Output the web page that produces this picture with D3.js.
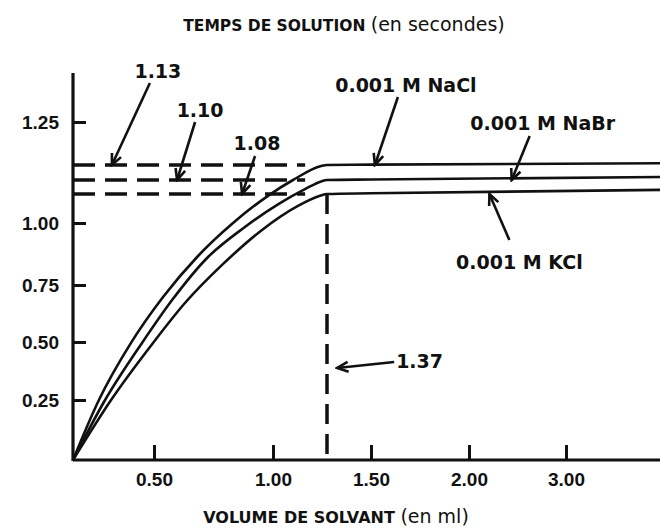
<!DOCTYPE html>
<html>
<head>
<meta charset="utf-8">
<script src="https://cdn.jsdelivr.net/npm/d3@7"></script>
<style>
  html, body { margin: 0; padding: 0; background: #fff; }
  svg { display: block; font-family: "DejaVu Sans", sans-serif; }
</style>
</head>
<body>
<svg id="chart" width="660" height="529"></svg>
<script>
// x axis ticks (ml) and y axis ticks (s)
const xTicks = [0.5, 1.0, 1.5, 2.0, 3.0];
const yTicks = [0.25, 0.5, 0.75, 1.0, 1.25];

// curves: volume (ml) / temps (s)
const naclX = [0, 0.16, 0.358, 0.538, 0.685, 0.832, 0.979, 1.137, 1.33, 1.37, 1.5, 4.0];
const naclY = [0, 0.25, 0.496, 0.697, 0.867, 1.0, 1.075, 1.1, 1.128, 1.13, 1.131, 1.135];
const nabrX = [0, 0.198, 0.426, 0.576, 0.723, 0.882, 1.048, 1.219, 1.33, 1.37, 1.5, 4.0];
const nabrY = [0, 0.25, 0.496, 0.684, 0.859, 0.984, 1.055, 1.087, 1.098, 1.1, 1.101, 1.106];
const kclX = [0, 0.235, 0.494, 0.63, 0.786, 0.954, 1.171, 1.322, 1.37, 1.5, 4.0];
const kclY = [0, 0.25, 0.496, 0.671, 0.831, 0.972, 1.047, 1.075, 1.08, 1.081, 1.086];

// plateau values and end of solution volume
const plateauValues = [1.13, 1.1, 1.08];
const plateauLabels = ["1.13", "1.10", "1.08"];
const endVolume = 1.37;
const dashEnd = 1.22;

const seriesNames = ["0.001 M NaCl", "0.001 M NaBr", "0.001 M KCl"];

const svg = d3.select("#chart");

// the printed axes are not linear, so the scales are calibrated piecewise
const x = d3
  .scaleLinear()
  .domain([0, 0.5, 1.0, 1.37, 1.5, 2.0, 3.0, 4.0])
  .range([73, 154, 273, 327, 371, 469, 566, 663]);

const y = d3
  .scaleLinear()
  .domain([0, 0.25, 0.5, 0.75, 1.0, 1.08, 1.1, 1.13, 1.25, 1.39])
  .range([460, 400, 342, 285, 223, 194, 180, 165, 122, 73]);

const ink = "#111";

// arrow head
svg
  .append("defs")
  .append("marker")
  .attr("id", "head")
  .attr("viewBox", "-12 -7 14 14")
  .attr("refX", 0)
  .attr("refY", 0)
  .attr("markerWidth", 14)
  .attr("markerHeight", 14)
  .attr("markerUnits", "userSpaceOnUse")
  .attr("orient", "auto")
  .append("path")
  .attr("d", "M-11,-5 L0,0 L-11,5")
  .attr("fill", "none")
  .attr("stroke", ink)
  .attr("stroke-width", 2.6);

// dashed guide lines
svg
  .append("g")
  .selectAll("line")
  .data(plateauValues)
  .join("line")
  .attr("x1", x(0))
  .attr("x2", x(dashEnd))
  .attr("y1", (d) => y(d))
  .attr("y2", (d) => y(d))
  .attr("stroke", ink)
  .attr("stroke-width", 3.5)
  .attr("stroke-dasharray", "22,10");

svg
  .append("line")
  .attr("x1", x(endVolume))
  .attr("x2", x(endVolume))
  .attr("y1", y(1.08))
  .attr("y2", y(0))
  .attr("stroke", ink)
  .attr("stroke-width", 3.5)
  .attr("stroke-dasharray", "20,10");

// curves
const line = d3
  .line()
  .x((d) => x(d[0]))
  .y((d) => y(d[1]))
  .curve(d3.curveMonotoneX);

const curves = [
  d3.zip(naclX, naclY),
  d3.zip(nabrX, nabrY),
  d3.zip(kclX, kclY),
];

svg
  .append("g")
  .selectAll("path")
  .data(curves)
  .join("path")
  .attr("d", line)
  .attr("fill", "none")
  .attr("stroke", ink)
  .attr("stroke-width", 2.6);

// axes
const xAxis = svg
  .append("g")
  .attr("transform", `translate(0,${y(0)})`)
  .call(
    d3
      .axisBottom(x)
      .tickValues(xTicks)
      .tickSize(-15)
      .tickPadding(13)
      .tickFormat(d3.format(".2f"))
  );
xAxis.select(".domain").remove();
xAxis
  .append("line")
  .attr("x1", x(0))
  .attr("x2", 660)
  .attr("stroke", ink)
  .attr("stroke-width", 3.2);

const yAxis = svg
  .append("g")
  .attr("transform", `translate(${x(0)},0)`)
  .call(
    d3
      .axisLeft(y)
      .tickValues(yTicks)
      .tickSize(-13)
      .tickPadding(14)
      .tickFormat(d3.format(".2f"))
  );
yAxis.select(".domain").remove();
yAxis
  .append("line")
  .attr("y1", y(0) + 1)
  .attr("y2", y(1.39))
  .attr("stroke", ink)
  .attr("stroke-width", 3.2);

svg
  .selectAll(".tick line")
  .attr("stroke", ink)
  .attr("stroke-width", 3);

svg
  .selectAll(".tick text")
  .attr("fill", ink)
  .style("font-size", "19px")
  .style("font-weight", "bold");

xAxis.selectAll(".tick text").attr("dy", "0.71em");
yAxis.selectAll(".tick text").attr("dy", "0.36em");

// annotations: tip in data units, tail and label offsets in pixels
const annotations = [
  { text: plateauLabels[0], tx: 0.24, ty: plateauValues[0], dx: 38, dy: -82, lx: 46, ly: -87 },
  { text: plateauLabels[1], tx: 0.597, ty: plateauValues[1], dx: 18, dy: -58, lx: 23, ly: -63 },
  { text: plateauLabels[2], tx: 0.87, ty: plateauValues[2], dx: 13, dy: -38, lx: 15, ly: -44 },
  { text: seriesNames[0], tx: 1.52, ty: plateauValues[0], dx: 23, dy: -68, lx: 31, ly: -73 },
  { text: seriesNames[1], tx: 2.44, ty: plateauValues[1], dx: 18, dy: -44, lx: 31, ly: -50 },
  { text: seriesNames[2], tx: 2.21, ty: plateauValues[2], dx: 20, dy: 46, lx: 30, ly: 75 },
  { text: "1.37", tx: 1.4, ty: 0.388, dx: 57, dy: -6, lx: 59, ly: 0 },
];

const ann = svg.append("g").selectAll("g").data(annotations).join("g");

ann
  .append("line")
  .attr("x1", (d) => x(d.tx) + d.dx)
  .attr("y1", (d) => y(d.ty) + d.dy)
  .attr("x2", (d) => x(d.tx))
  .attr("y2", (d) => y(d.ty))
  .attr("stroke", ink)
  .attr("stroke-width", 2.6)
  .attr("marker-end", "url(#head)");

ann
  .append("text")
  .attr("x", (d) => x(d.tx) + d.lx)
  .attr("y", (d) => y(d.ty) + d.ly)
  .attr("text-anchor", (d) => (d.text === "1.37" ? "start" : "middle"))
  .attr("fill", ink)
  .style("font-size", "19px")
  .style("font-weight", "bold")
  .text((d) => d.text);

// titles
const topTitle = svg
  .append("text")
  .attr("x", 344)
  .attr("y", 31)
  .attr("text-anchor", "middle")
  .attr("fill", ink);
topTitle
  .append("tspan")
  .style("font-size", "15.5px")
  .style("font-weight", "bold")
  .text("TEMPS DE SOLUTION ");
topTitle.append("tspan").style("font-size", "19px").text("(en secondes)");

const bottomTitle = svg
  .append("text")
  .attr("x", 336)
  .attr("y", 523)
  .attr("text-anchor", "middle")
  .attr("fill", ink);
bottomTitle
  .append("tspan")
  .style("font-size", "16px")
  .style("font-weight", "bold")
  .text("VOLUME DE SOLVANT ");
bottomTitle.append("tspan").style("font-size", "19px").text("(en ml)");
</script>
</body>
</html>
